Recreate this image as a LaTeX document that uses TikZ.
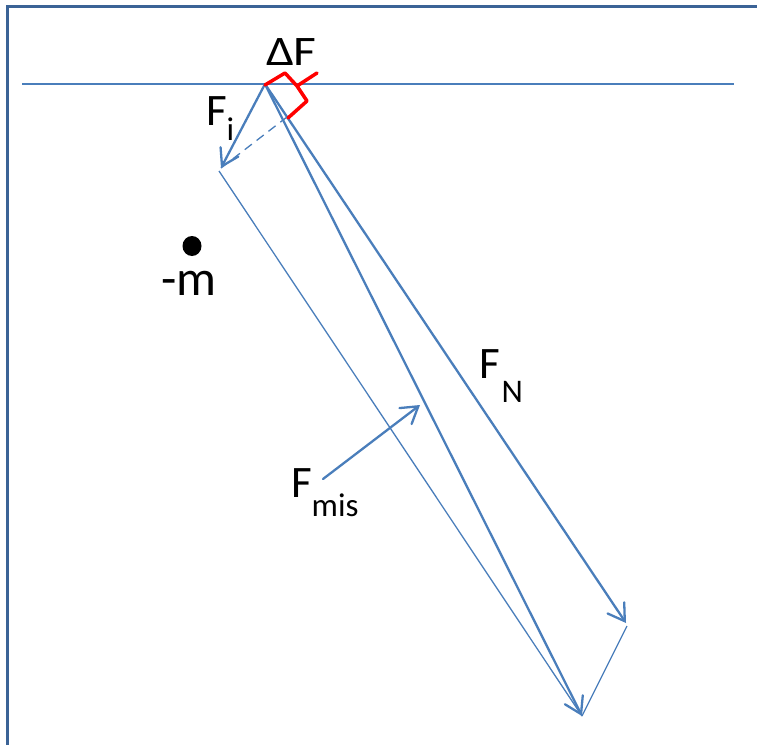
\documentclass[tikz,border=0pt]{standalone}
\usepackage{fontspec}
\setmainfont{Carlito}
\usetikzlibrary{arrows.meta}
\definecolor{vec}{HTML}{4A7EBB}
\definecolor{frameblue}{HTML}{3B6396}
\definecolor{bracered}{HTML}{FF0000}
\begin{document}
\begin{tikzpicture}[x=1pt,y=-1pt,
  vecarrow/.style={draw=vec, line width=2.3pt, line cap=round, -{Straight Barb[length=16pt,width=20pt,line cap=round]}},
  thinline/.style={draw=vec, line width=1.3pt},
  lbl/.style={anchor=base west, inner sep=0pt, outer sep=0pt, text=black},
  bigfont/.style={font=\fontsize{45}{45}\selectfont}]
\useasboundingbox (0,0) rectangle (757,744);
% frame
\draw[frameblue, line width=3pt] (7,760) -- (7,6) -- (770,6);
% coordinates
\coordinate (H1) at (22,84);
\coordinate (H2) at (734,84);
\coordinate (O) at (265,84);
\coordinate (Fi) at (221,168);
\coordinate (Fibase) at (219,171);
\coordinate (FN) at (626,623);
\coordinate (FNbase) at (627,626);
\coordinate (R) at (582,716);
\coordinate (D) at (287,117);
\coordinate (Ms) at (323,479);
\coordinate (Me) at (420,405);
% baseline
\draw[thinline, line width=1.4pt] (H1) -- (H2);
% parallelogram thin sides
\draw[thinline] (Fibase) -- (R);
\draw[thinline] (FNbase) -- (R);
% dashed
\draw[thinline, dashed, dash pattern=on 9pt off 6pt] (Fi) -- (D);
% vectors
\draw[vecarrow] (O) -- (Fi);
\draw[vecarrow] (O) -- (FN);
\draw[vecarrow] (O) -- (R);
\draw[vecarrow] (Ms) -- (Me);
% red brace
\draw[bracered, line width=3.5pt, line join=round, line cap=round]
  (265,85) -- (285,73) -- (297,86) -- (307,101) -- (288,118)
  (297,86) -- (317,73);
% dot
\fill[black] (192,246) ellipse [x radius=9.5pt, y radius=10pt];
% labels
\node[lbl, font=\fontsize{42}{42}\selectfont] (dF) at (266,65) {\scalebox{1.18}[1]{ΔF}};
\node[lbl, bigfont] (lFi) at (206,125) {F\raisebox{-15pt}{\fontsize{33}{33}\selectfont i}};
\node[lbl, bigfont] (lFN) at (479,378) {F\hspace{2pt}\raisebox{-24pt}{\fontsize{33}{33}\selectfont N}};
\node[lbl, bigfont] (lFm) at (291,497) {F\raisebox{-19pt}{\fontsize{33}{33}\selectfont mis}};
\node[lbl, font=\fontsize{50}{50}\selectfont] (lm) at (161,295) {-m};
\end{tikzpicture}
\end{document}
